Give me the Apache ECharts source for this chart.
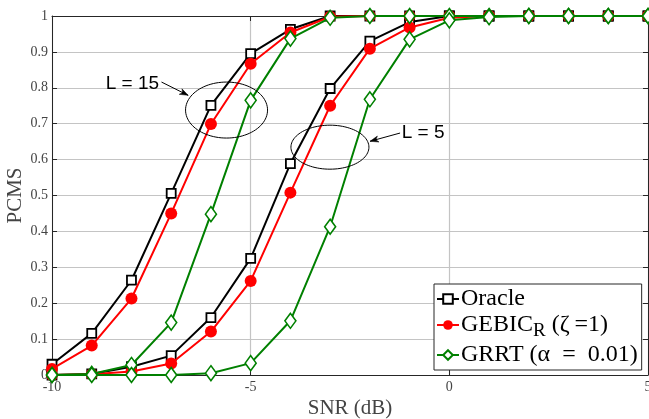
<!DOCTYPE html>
<html><head><meta charset="utf-8">
<script src="https://cdn.jsdelivr.net/npm/echarts@6/dist/echarts.min.js"></script>
<style>html,body{margin:0;padding:0;background:#fff}#c{width:649px;height:419px}</style>
</head><body><div id="c"></div>
<script>
// ---- data ----
const snr = [-10,-9,-8,-7,-6,-5,-4,-3,-2,-1,0,1,2,3,4,5];
const oracleL15 = [0.030,0.116,0.264,0.506,0.751,0.895,0.963,1,1,1,1,1,1,1,1,1];
const gebicL15  = [0.017,0.082,0.213,0.450,0.699,0.867,0.954,0.998,1,1,1,1,1,1,1,1];
const grrtL15   = [0.000,0.003,0.028,0.146,0.448,0.765,0.937,0.995,1,1,1,1,1,1,1,1];
const oracleL5  = [0.000,0.003,0.023,0.054,0.160,0.325,0.589,0.798,0.930,0.983,1,1,1,1,1,1];
const gebicL5   = [0.000,0.002,0.010,0.032,0.121,0.262,0.508,0.750,0.909,0.968,0.995,1,1,1,1,1];
const grrtL5    = [0.000,0.000,0.000,0.000,0.005,0.033,0.151,0.413,0.768,0.935,0.988,0.997,1,1,1,1];
const legendNames = ['Oracle','GEBIC','GRRT'];
const annotations = [
  {text:'L = 15', tx:-8.647, ty:0.812, ax0:-7.244, ay0:0.816, ax1:-6.574, ay1:0.779, ex:-5.607, ey:0.738, rx:41, ry:28},
  {text:'L = 5',  tx:-1.199, ty:0.6735, ax0:-1.24, ay0:0.674, ax1:-1.995, ay1:0.651, ex:-3.005, ey:0.6346, rx:39, ry:22}
];

const SERIF = '"Liberation Serif", "DejaVu Serif", serif';
const SANS = '"Liberation Sans", Arial, sans-serif';
const AX = '#262626';
const GRID = '#c4c4c4';

const chart = echarts.init(document.getElementById('c'), null, {renderer:'canvas'});
const pts = arr => snr.map((x,i)=>[x, arr[i]]);

const styles = {
  Oracle: {color:'#000000', symbol:'rect', symbolSize:9, itemStyle:{color:'#ffffff', borderColor:'#000000', borderWidth:1.8}},
  GEBIC:  {color:'#ff0000', symbol:'circle', symbolSize:12, itemStyle:{color:'#ff0000', borderColor:'#ff0000', borderWidth:0}},
  GRRT:   {color:'#008000', symbol:'diamond', symbolSize:[11,15], itemStyle:{color:'#ffffff', borderColor:'#008000', borderWidth:1.6}}
};
function mk(name, arr, z){
  const s = styles[name];
  return {
    name, type:'line', data:pts(arr), z,
    symbol:s.symbol, symbolSize:s.symbolSize,
    lineStyle:{color:s.color, width:2},
    itemStyle:s.itemStyle,
    showSymbol:true, animation:false, clip:false
  };
}

const axisCommon = {
  axisLine:{show:true, onZero:false, lineStyle:{color:AX, width:1}},
  axisTick:{show:true, inside:true, length:5, lineStyle:{color:AX, width:1}},
};

chart.setOption({
  animation:false,
  backgroundColor:'#fff',
  grid:{left:52, right:1, top:16, bottom:44, containLabel:false, outerBoundsMode:'none'},
  xAxis:[
    Object.assign({type:'value', min:-10, max:5, interval:5,
      axisLabel:{fontFamily:SERIF, fontSize:14, color:'#444', margin:5},
      splitLine:{show:true, lineStyle:{color:GRID, width:1.2}},
      name:'SNR (dB)', nameLocation:'middle', nameGap:23, nameMoveOverlap:false,
      nameTextStyle:{fontFamily:SERIF, fontSize:21, color:'#444'}}, axisCommon),
    Object.assign({type:'value', position:'top', min:-10, max:5, interval:5,
      axisLabel:{show:false}, splitLine:{show:false}}, axisCommon)
  ],
  yAxis:[
    Object.assign({type:'value', min:0, max:1, interval:0.1,
      axisLabel:{fontFamily:SERIF, fontSize:14, color:'#444', margin:4,
        formatter:v=>String(+v.toFixed(1))},
      splitLine:{show:true, lineStyle:{color:GRID, width:1.2}},
      name:'PCMS', nameLocation:'middle', nameGap:26, nameRotate:90, nameMoveOverlap:false,
      nameTextStyle:{fontFamily:SERIF, fontSize:21, color:'#444'}}, axisCommon),
    Object.assign({type:'value', position:'right', min:0, max:1, interval:0.1,
      axisLabel:{show:false}, splitLine:{show:false}}, axisCommon)
  ],
  legend:{
    data:legendNames, orient:'vertical', left:434, top:284,
    padding:[3,4,3,2], itemGap:2, itemWidth:22, itemHeight:12,
    backgroundColor:'#fff', borderColor:AX, borderWidth:1, borderRadius:0,
    textStyle:{fontFamily:SERIF, fontSize:24, color:'#000', padding:[0,0,0,-3],
      rich:{
        a:{fontFamily:SERIF, fontSize:24, color:'#000'},
        s:{fontFamily:SERIF, fontSize:19, color:'#000', padding:[13,0,0,0]}
      }},
    formatter:function(n){
      if(n==='Oracle') return '{a|Oracle}';
      if(n==='GEBIC') return '{a|GEBIC}{s|R}{a| (ζ\u2009=1)}';
      return '{a|GRRT (α\u2002=\u20020.01)}';
    }
  },
  series:[
    mk('Oracle', oracleL15, 2), mk('Oracle', oracleL5, 2),
    mk('GEBIC', gebicL15, 3), mk('GEBIC', gebicL5, 3),
    mk('GRRT', grrtL15, 4), mk('GRRT', grrtL5, 4)
  ]
});

// annotations anchored in data coordinates
const P = (x,y)=>chart.convertToPixel({gridIndex:0},[x,y]);
const g = [];
annotations.forEach(a=>{
  const t = P(a.tx,a.ty);
  g.push({type:'text', x:t[0], y:t[1], z:50,
    style:{text:a.text, fontFamily:SANS, fontSize:19, fill:'#000', verticalAlign:'middle', align:'left'}});
  const p0 = P(a.ax0,a.ay0), p1 = P(a.ax1,a.ay1);
  g.push({type:'line', z:50, shape:{x1:p0[0],y1:p0[1],x2:p1[0],y2:p1[1]}, style:{stroke:'#000', lineWidth:1}});
  const ang = Math.atan2(p1[1]-p0[1], p1[0]-p0[0]);
  const L = 9, sp = 0.35;
  const h1 = [p1[0]-L*Math.cos(ang-sp), p1[1]-L*Math.sin(ang-sp)];
  const h2 = [p1[0]-L*Math.cos(ang+sp), p1[1]-L*Math.sin(ang+sp)];
  const h3 = [p1[0]-6*Math.cos(ang), p1[1]-6*Math.sin(ang)];
  g.push({type:'polygon', z:50, shape:{points:[h1,p1,h2,h3]}, style:{fill:'#000', stroke:'#000', lineWidth:0.5}});
  const c = P(a.ex,a.ey);
  const ep = [];
  for(let k=0;k<96;k++){const th=2*Math.PI*k/96; ep.push([c[0]+a.rx*Math.cos(th), c[1]+a.ry*Math.sin(th)]);}
  g.push({type:'polygon', z:50, shape:{points:ep}, style:{fill:null, stroke:'#000', lineWidth:1}});
});
chart.setOption({graphic:g});
</script>
</body></html>
